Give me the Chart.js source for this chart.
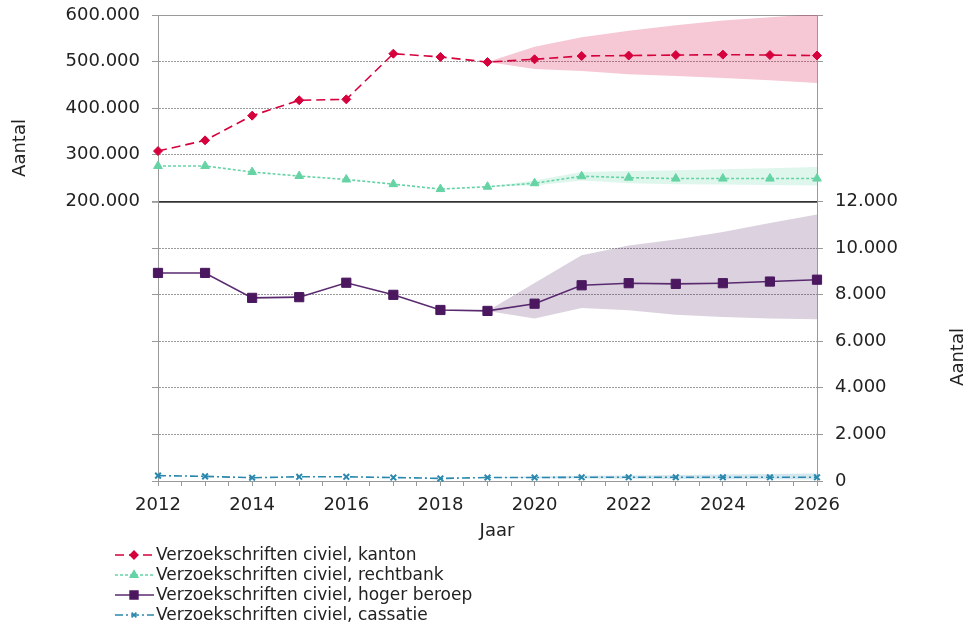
<!DOCTYPE html>
<html>
<head>
<meta charset="utf-8">
<script src="https://cdn.jsdelivr.net/npm/chart.js@4/dist/chart.umd.min.js"></script>
<style>
  html, body { margin: 0; padding: 0; background: #fff; }
  #wrap { width: 970px; height: 629px; }
</style>
</head>
<body>
<div id="wrap"><canvas id="grafiek" width="970" height="629"></canvas></div>
<script>
// jaren en reeksen
const jaren = [2012, 2013, 2014, 2015, 2016, 2017, 2018, 2019, 2020, 2021, 2022, 2023, 2024, 2025, 2026];
const prognoseJaren = [2019, 2020, 2021, 2022, 2023, 2024, 2025, 2026];

const kanton = [308000, 331000, 384000, 417000, 419000, 517000, 510000, 499000, 505000, 512000, 513000, 514000, 515000, 514000, 513000];
const kantonBoven = [499000, 532000, 552000, 566000, 578000, 588000, 595000, 602000];
const kantonOnder = [499000, 484000, 480000, 473000, 469000, 465000, 460000, 454000];

const rechtbank = [276000, 276000, 263000, 254500, 247000, 237000, 226500, 231500, 239000, 254000, 251000, 249000, 249000, 249000, 249000];
const rechtbankBoven = [231500, 245000, 263000, 265000, 267000, 269000, 271000, 274000];
const rechtbankOnder = [231500, 234000, 245000, 239000, 237000, 236000, 235000, 234000];

const hogerBeroep = [8930, 8930, 7860, 7890, 8510, 7990, 7340, 7300, 7610, 8400, 8490, 8460, 8490, 8560, 8640];
const hogerBoven = [7300, 8500, 9690, 10110, 10360, 10690, 11070, 11440];
const hogerOnder = [7300, 6970, 7430, 7330, 7140, 7040, 6970, 6940];

const cassatie = [230, 200, 140, 180, 180, 150, 110, 150, 150, 160, 160, 160, 160, 160, 160];
const cassatieBoven = [150, 190, 220, 240, 260, 280, 300, 320];
const cassatieOnder = [150, 120, 110, 100, 90, 80, 70, 60];

const linksTicks = [200000, 300000, 400000, 500000, 600000];
const rechtsTicks = [0, 2000, 4000, 6000, 8000, 10000, 12000];

const FONT = "'DejaVu Sans', Verdana, sans-serif";

function punten(xs, ys) {
  return xs.map((x, i) => ({ x: x, y: ys[i] }));
}
function fmt(v) {
  return String(v).replace(/\B(?=(\d{3})+(?!\d))/g, '.');
}

const reeksen = [
  { label: 'Verzoekschriften civiel, kanton', data: kanton, kleur: '#d5003c', lijn: '#d5003c', dash: [9, 5], punt: 'rectRot', r: 4.5, as: 'y' },
  { label: 'Verzoekschriften civiel, rechtbank', data: rechtbank, kleur: '#66d3a5', lijn: '#66d3a5', dash: [3, 2], punt: 'triangle', r: 5, as: 'y' },
  { label: 'Verzoekschriften civiel, hoger beroep', data: hogerBeroep, kleur: '#4b185f', lijn: '#5a2a70', dash: [], punt: 'rect', r: 6.5, as: 'y2' },
  { label: 'Verzoekschriften civiel, cassatie', data: cassatie, kleur: '#2a88ae', lijn: '#2a88ae', dash: [8, 3, 2, 3], punt: 'crossRot', r: 4, as: 'y2' }
];

function band(boven, onder, kleur, as) {
  return [
    { data: punten(prognoseJaren, boven), yAxisID: as, borderWidth: 0, pointRadius: 0, fill: '+1', backgroundColor: kleur, clip: false },
    { data: punten(prognoseJaren, onder), yAxisID: as, borderWidth: 0, pointRadius: 0, fill: false, backgroundColor: kleur, clip: false }
  ];
}

const datasets = [
  ...band(kantonBoven, kantonOnder, 'rgba(212,0,59,0.22)', 'y'),
  ...band(rechtbankBoven, rechtbankOnder, 'rgba(95,208,160,0.2)', 'y'),
  ...band(hogerBoven, hogerOnder, 'rgba(74,26,94,0.2)', 'y2'),
  ...band(cassatieBoven, cassatieOnder, 'rgba(42,136,174,0.2)', 'y2')
];
reeksen.forEach(r => {
  datasets.push({
    label: r.label,
    data: punten(jaren, r.data),
    yAxisID: r.as,
    borderColor: r.lijn,
    backgroundColor: r.kleur,
    borderWidth: 1.6,
    borderDash: r.dash,
    pointStyle: r.punt,
    pointRadius: r.r,
    pointBorderWidth: r.punt === 'crossRot' ? 2 : 1,
    pointBorderColor: r.kleur,
    pointBackgroundColor: r.kleur,
    fill: false,
    tension: 0,
    clip: false
  });
});

// titels en legenda zelf tekenen
const extraTekst = {
  id: 'extraTekst',
  afterDraw(chart) {
    const ctx = chart.ctx;
    ctx.save();
    ctx.fillStyle = '#222';
    ctx.font = '18px ' + FONT;
    ctx.textAlign = 'center';
    ctx.textBaseline = 'middle';
    ctx.save();
    ctx.translate(20, 148);
    ctx.rotate(-Math.PI / 2);
    ctx.fillText('Aantal', 0, 0);
    ctx.restore();
    ctx.save();
    ctx.translate(958, 357);
    ctx.rotate(-Math.PI / 2);
    ctx.fillText('Aantal', 0, 0);
    ctx.restore();
    ctx.fillText('Jaar', 497, 531);

    // legenda
    ctx.font = '17px ' + FONT;
    ctx.textAlign = 'left';
    reeksen.forEach((r, i) => {
      const y = 555 + i * 20;
      ctx.strokeStyle = r.lijn;
      ctx.lineWidth = 1.6;
      ctx.setLineDash(r.dash);
      ctx.beginPath();
      ctx.moveTo(115, y);
      ctx.lineTo(154, y);
      ctx.stroke();
      ctx.setLineDash([]);
      ctx.fillStyle = r.kleur;
      ctx.strokeStyle = r.kleur;
      Chart.helpers.drawPoint(ctx, { pointStyle: r.punt, radius: r.r * 0.85, borderWidth: r.punt === 'crossRot' ? 2 : 1, rotation: 0 }, 134, y);
      ctx.fillStyle = '#222';
      ctx.fillText(r.label, 156, y + 1);
    });
    ctx.restore();
  }
};

function geenPadding(scale) {
  scale.paddingTop = 0;
  scale.paddingBottom = 0;
  scale.paddingLeft = 0;
  scale.paddingRight = 0;
}

new Chart(document.getElementById('grafiek'), {
  type: 'line',
  data: { datasets: datasets },
  plugins: [extraTekst],
  options: {
    responsive: false,
    animation: false,
    layout: { padding: { top: 15, left: 0, right: 0, bottom: 0 } },
    plugins: {
      legend: { display: false },
      tooltip: { enabled: false },
      filler: { drawTime: 'beforeDatasetsDraw' }
    },
    scales: {
      x: {
        type: 'linear',
        min: 2012,
        max: 2026,
        afterFit(scale) { scale.height = 148; geenPadding(scale); },
        ticks: {
          stepSize: 0.5,
          autoSkip: false,
          maxRotation: 0,
          padding: 9,
          color: '#222',
          font: { family: FONT, size: 18 },
          callback: v => (Number.isInteger(v) && v % 2 === 0) ? String(v) : ''
        },
        grid: { drawOnChartArea: false, tickLength: 5, tickColor: '#999' },
        border: { color: '#999' }
      },
      y: {
        position: 'left',
        min: -400000,
        max: 600000,
        afterFit(scale) { scale.width = 158; geenPadding(scale); },
        afterBuildTicks(scale) {
          const t = [];
          for (let v = -400000; v <= 600000; v += 100000) t.push({ value: v });
          scale.ticks = t;
        },
        ticks: {
          padding: 12,
          color: '#222',
          font: { family: FONT, size: 18 },
          callback: v => linksTicks.includes(v) ? fmt(v) : ''
        },
        grid: {
          tickLength: 6,
          tickColor: '#999',
          color: c => c.tick.value === 200000 ? '#333' : '#9a9a9a',
          lineWidth: c => c.tick.value === 200000 ? 1.8 : 1
        },
        border: {
          color: '#999',
          dash: c => (c.tick && (c.tick.value === 200000 || c.tick.value === 600000 || c.tick.value === -400000)) ? [] : [2, 1]
        }
      },
      y2: {
        position: 'right',
        min: 0,
        max: 20000,
        afterFit(scale) { scale.width = 153; geenPadding(scale); },
        afterBuildTicks(scale) {
          const t = [];
          for (let v = 0; v <= 20000; v += 2000) t.push({ value: v });
          scale.ticks = t;
        },
        ticks: {
          padding: 12,
          color: '#222',
          font: { family: FONT, size: 18 },
          callback: v => rechtsTicks.includes(v) ? fmt(v) : ''
        },
        grid: { drawOnChartArea: false, tickLength: 6, tickColor: '#999' },
        border: { color: '#999' }
      }
    }
  }
});
</script>
</body>
</html>
